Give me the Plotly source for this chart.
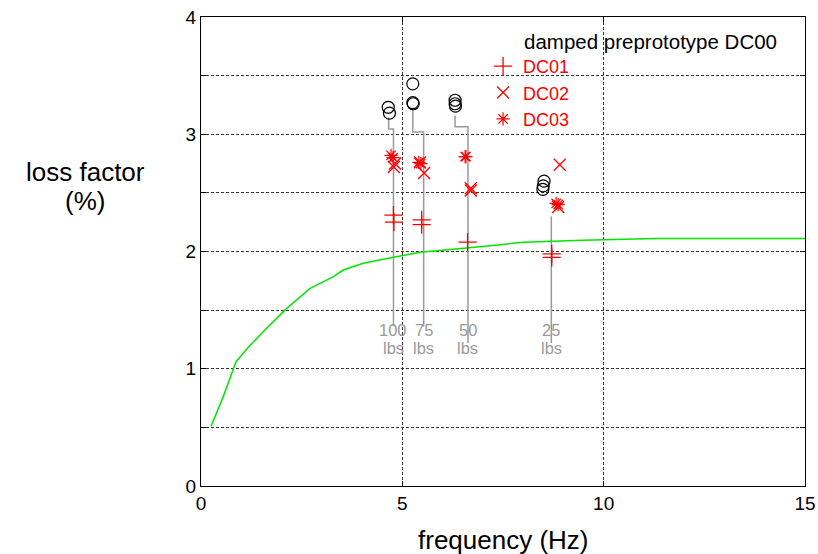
import plotly.graph_objects as go

# Damping test results: loss factor (%) against frequency (Hz)
dc00_freq = [4.65, 4.68, 5.26, 5.26, 5.27, 6.31, 6.31, 6.32, 8.52, 8.50, 8.49]
dc00_loss = [3.23, 3.18, 3.43, 3.27, 3.26, 3.29, 3.26, 3.24, 2.60, 2.56, 2.53]

dc01_freq = [4.78, 4.79, 5.48, 5.48, 6.62, 8.71, 8.71]
dc01_loss = [2.31, 2.25, 2.27, 2.23, 2.08, 1.98, 1.95]

dc02_freq = [4.82, 4.79, 5.44, 5.54, 6.70, 6.70, 8.91, 8.87]
dc02_loss = [2.75, 2.72, 2.76, 2.67, 2.52, 2.54, 2.74, 2.38]

dc03_freq = [4.72, 4.77, 5.41, 5.46, 6.56, 6.58, 8.82, 8.87]
dc03_loss = [2.82, 2.80, 2.76, 2.75, 2.81, 2.81, 2.41, 2.40]

# Model curve
model_freq = [0.25, 0.55, 0.87, 1.22, 1.63, 2.13, 2.71, 3.29, 3.53, 4.03, 4.78,
              5.44, 6.6, 8.0, 9.49, 11.15, 11.3, 15.0]
model_loss = [0.51, 0.76, 1.06, 1.20, 1.345, 1.515, 1.686, 1.785, 1.842, 1.90,
              1.95, 1.993, 2.03, 2.078, 2.095, 2.107, 2.11, 2.11]

# Load labels with leader lines (top of leader, bend level, drop position)
load_values = ["100", "75", "50", "25"]
load_unit = "lbs"
leader_top_x = [4.66, 5.26, 6.31, 8.70]
leader_top_y = [3.14, 3.22, 3.16, 2.30]
leader_bend_y = [3.045, 3.02, 3.065, 2.30]
leader_x = [4.78, 5.53, 6.63, 8.70]
leader_end_y = [1.36, 1.36, 1.22, 1.22]
value_label_y = 1.328
unit_label_y = 1.180

x_ticks = [0, 5, 10, 15]
y_ticks = [0, 0.5, 1, 1.5, 2, 2.5, 3, 3.5, 4]
y_ticktext = ["0", "", "1", "", "2", "", "3", "", "4"]

RED = "#ff0000"
GRAY = "#9a9a9a"
FONT = "Liberation Sans, Arial, sans-serif"

fig = go.Figure()

for i in range(len(leader_x)):
    fig.add_trace(go.Scatter(
        x=[leader_top_x[i], leader_top_x[i], leader_x[i], leader_x[i]],
        y=[leader_top_y[i], leader_bend_y[i], leader_bend_y[i], leader_end_y[i]],
        mode="lines", line=dict(color=GRAY, width=1.5),
        showlegend=False, hoverinfo="skip"))
    for txt, ty in ((load_values[i], value_label_y), (load_unit, unit_label_y)):
        fig.add_annotation(x=leader_x[i], y=ty, text=txt, showarrow=False,
                           font=dict(size=16.5, color=GRAY, family=FONT),
                           xanchor="center", yanchor="middle")

fig.add_trace(go.Scatter(x=model_freq, y=model_loss, mode="lines",
                         line=dict(color="#00e600", width=1.5), showlegend=False))

fig.add_trace(go.Scatter(x=dc00_freq, y=dc00_loss, mode="markers", name="damped preprototype DC00",
                         marker=dict(symbol="circle-open", size=12,
                                     line=dict(color="black", width=1.2), color="black"),
                         showlegend=False))
fig.add_trace(go.Scatter(x=dc01_freq, y=dc01_loss, mode="markers", name="DC01",
                         marker=dict(symbol="cross-thin-open", size=13,
                                     line=dict(color=RED, width=1.3), color=RED)))
fig.add_trace(go.Scatter(x=dc02_freq, y=dc02_loss, mode="markers", name="DC02",
                         marker=dict(symbol="x-thin-open", size=12,
                                     line=dict(color=RED, width=1.3), color=RED)))
fig.add_trace(go.Scatter(x=dc03_freq, y=dc03_loss, mode="markers", name="DC03",
                         marker=dict(symbol="asterisk-open", size=11,
                                     line=dict(color=RED, width=1.2), color=RED)))

fig.add_annotation(xref="paper", yref="paper", x=0.531, y=0.9467,
                   text="damped preprototype DC00", showarrow=False,
                   xanchor="left", yanchor="middle",
                   font=dict(size=20.5, color="black", family=FONT))

# Axis titles
TITLE_SIZE = 26
fig.add_annotation(xref="paper", yref="paper", x=-0.192, y=0.6695,
                   text="loss factor", showarrow=False,
                   xanchor="center", yanchor="middle",
                   font=dict(size=TITLE_SIZE, color="black", family=FONT))
fig.add_annotation(xref="paper", yref="paper", x=-0.192, y=0.6077,
                   text="(%)", showarrow=False,
                   xanchor="center", yanchor="middle",
                   font=dict(size=TITLE_SIZE, color="black", family=FONT))
fig.add_annotation(xref="paper", yref="paper", x=0.5, y=-0.116,
                   text="frequency (Hz)", showarrow=False,
                   xanchor="center", yanchor="middle",
                   font=dict(size=TITLE_SIZE, color="black", family=FONT))

axis_common = dict(
    showline=True, linecolor="black", linewidth=1.3, mirror="ticks",
    ticks="inside", ticklen=5, tickcolor="black",
    showgrid=True, gridcolor="#333333", griddash="3px,2px", gridwidth=1,
    zeroline=False, tickfont=dict(size=19, color="black", family=FONT),
    automargin=False,
)

fig.update_xaxes(range=[0, 15], tickvals=x_ticks, **axis_common)
fig.update_yaxes(range=[0, 4], tickvals=y_ticks, ticktext=y_ticktext, **axis_common)

fig.update_layout(
    width=818, height=554,
    margin=dict(l=201, r=13, t=17, b=68),
    plot_bgcolor="white", paper_bgcolor="white",
    font=dict(family=FONT),
    legend=dict(x=0.467, y=0.934, xanchor="left", yanchor="top",
                bgcolor="rgba(0,0,0,0)", font=dict(size=18, color=RED, family=FONT),
                tracegroupgap=0, itemwidth=30),
)

fig.write_html("out.html")
